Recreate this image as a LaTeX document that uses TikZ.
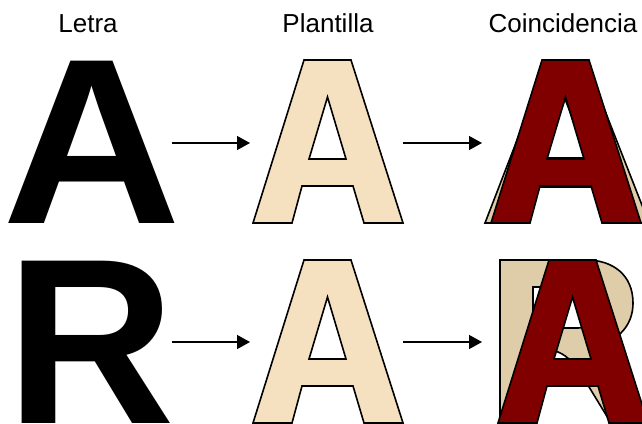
\documentclass[tikz,border=0pt]{standalone}
\usepackage{fontspec}
\setmainfont{Liberation Sans}
\usetikzlibrary{arrows.meta}
\definecolor{plant}{HTML}{F5E0C0}
\definecolor{under}{HTML}{DFCCA8}
\definecolor{match}{HTML}{800000}
\tikzset{
  outline/.style={draw=black, line width=1.6pt, line join=miter, even odd rule},
  plantA/.pic={\path[outline, fill=#1]
     (253,223) -- (304,60) -- (351,60) -- (403,223) -- (364,223) -- (353,186)
     -- (302,186) -- (292,223) -- cycle
     (327.5,97) -- (346,159) -- (309,159) -- cycle;},
  wideA/.pic={\path[outline, fill=#1]
     (9,223) -- (72,60) -- (109,60) -- (173,223) -- (137,223) -- (123,187)
     -- (58,187) -- (45,223) -- cycle
     (89,99) -- (112,158) -- (68,158) -- cycle;},
  tanR/.pic={\path[outline, fill=#1]
     (22,423) -- (22,260) -- (108,260)
     .. controls (135,260) and (155,275) .. (155,303)
     .. controls (155,325) and (141,340) .. (118,347)
     .. controls (126,352) and (133,360) .. (140,370)
     -- (172,423) -- (133,423) -- (108,382)
     .. controls (98,365) and (90,356) .. (80,352)
     .. controls (75,350) and (68,350) .. (60,350)
     -- (55,350) -- (55,423) -- cycle
     (55,287) -- (102,287)
     .. controls (115,287) and (122,296) .. (122,307)
     .. controls (122,320) and (113,328) .. (100,328)
     -- (55,328) -- cycle;},
  arr/.style={-{Triangle[length=13pt,width=14pt]}, line width=1.4pt},
  title/.style={font=\fontsize{26}{30}\selectfont, anchor=base, inner sep=0pt},
  bigletter/.style={font=\fontsize{236}{240}\selectfont\bfseries, anchor=base west, inner sep=0pt}
}
\begin{document}
\begin{tikzpicture}[x={(1pt,0)}, y={(0,-1pt)}]
\useasboundingbox (0,0) rectangle (642,423);
\clip (0,0) rectangle (642,423);
% titles
\node[title] (t1) at (88,32) {Letra};
\node[title] (t2) at (328,32) {Plantilla};
\node[title] (t3) at (563,32) {Coincidencia};
% column 1: letters
\node[bigletter] (la) at (2,223) {\smash{\scalebox{1.05}[1]{A}}};
\node[bigletter] (lr) at (6,423) {\smash{\scalebox{0.99}[1]{R}}};
% column 2: templates
\pic (pa1) {plantA=plant};
\pic[shift={(0,200)}] (pa2) {plantA=plant};
% column 3: matches
\pic[shift={(476,0)}] (ua) {wideA=under};
\pic[shift={(238,0)}] (ma1) {plantA=match};
\pic[shift={(478,0)}] (ur) {tanR=under};
\pic[shift={(245,200)}] (ma2) {plantA=match};
% arrows
\coordinate (a1s) at (172,143);
\coordinate (a1e) at (250,143);
\coordinate (a2s) at (403,143);
\coordinate (a2e) at (482,143);
\coordinate (a3s) at (172,342);
\coordinate (a3e) at (250,342);
\coordinate (a4s) at (403,342);
\coordinate (a4e) at (482,342);
\draw[arr] (a1s) -- (a1e);
\draw[arr] (a2s) -- (a2e);
\draw[arr] (a3s) -- (a3e);
\draw[arr] (a4s) -- (a4e);
\end{tikzpicture}
\end{document}
